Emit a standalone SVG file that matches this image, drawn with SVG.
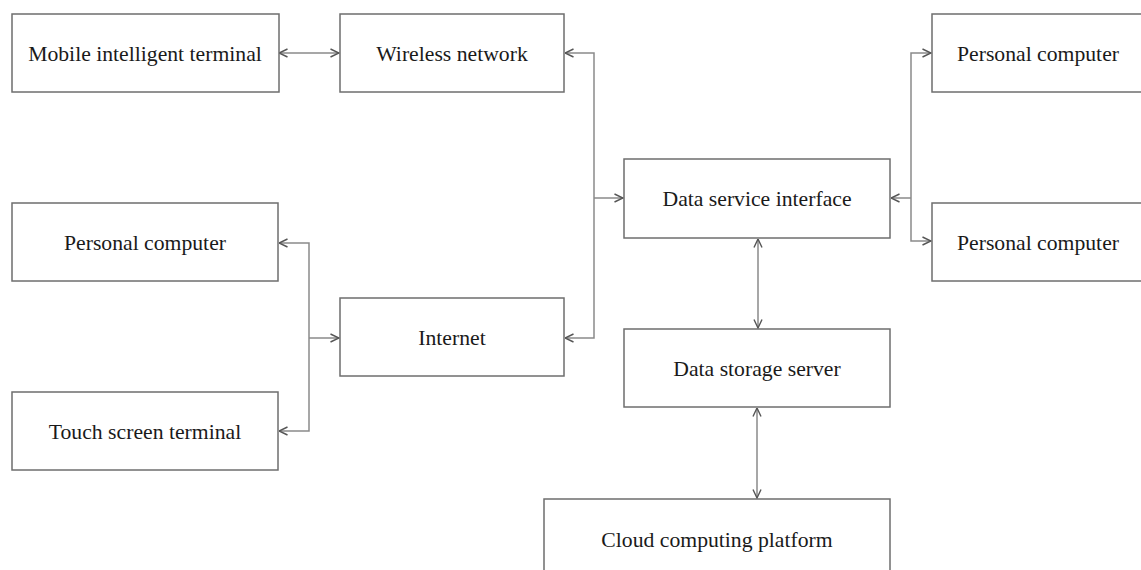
<svg xmlns="http://www.w3.org/2000/svg" width="1141" height="570" viewBox="0 0 1141 570">
<style>
.box{fill:#fff;stroke:#6e6e6e;stroke-width:1.5}
.t{font-family:"Liberation Serif","Times New Roman",serif;font-size:21.7px;fill:#1a1a1a;text-anchor:middle;dominant-baseline:central}
.c{fill:none;stroke:#8a8a8a;stroke-width:1.5}
</style>
<defs>
<marker id="a" viewBox="0 0 10 10" refX="9.5" refY="5" markerWidth="10" markerHeight="10" markerUnits="userSpaceOnUse" orient="auto-start-reverse">
<path d="M1,1 L9.5,5 L1,9" fill="none" stroke="#555" stroke-width="1.4"/>
</marker>
</defs>
<rect width="1141" height="570" fill="#fff"/>
<g id="connectors">
<line class="c" x1="279" y1="53" x2="339" y2="53" marker-start="url(#a)" marker-end="url(#a)"/>
<path class="c" d="M565,53 H594 V338 H565" marker-start="url(#a)" marker-end="url(#a)"/>
<line class="c" x1="594" y1="198" x2="623" y2="198" marker-end="url(#a)"/>
<path class="c" d="M279,243 H309 V431 H279" marker-start="url(#a)" marker-end="url(#a)"/>
<line class="c" x1="309" y1="338" x2="339" y2="338" marker-end="url(#a)"/>
<path class="c" d="M931,53 H911 V241 H931" marker-start="url(#a)" marker-end="url(#a)"/>
<line class="c" x1="911" y1="198" x2="891" y2="198" marker-end="url(#a)"/>
<line class="c" x1="758" y1="239" x2="758" y2="328" marker-start="url(#a)" marker-end="url(#a)"/>
<line class="c" x1="757" y1="408" x2="757" y2="498" marker-start="url(#a)" marker-end="url(#a)"/>
</g>
<g id="mobile"><rect class="box" x="12" y="14" width="267" height="78"/><text class="t" x="145" y="54">Mobile intelligent terminal</text></g>
<g id="wireless"><rect class="box" x="340" y="14" width="224" height="78"/><text class="t" x="452" y="54">Wireless network</text></g>
<g id="pc-left"><rect class="box" x="12" y="203" width="266" height="78"/><text class="t" x="145" y="243">Personal computer</text></g>
<g id="internet"><rect class="box" x="340" y="298" width="224" height="78"/><text class="t" x="452" y="338">Internet</text></g>
<g id="touch"><rect class="box" x="12" y="392" width="266" height="78"/><text class="t" x="145" y="432">Touch screen terminal</text></g>
<g id="dsi"><rect class="box" x="624" y="159" width="266" height="79"/><text class="t" x="757" y="199">Data service interface</text></g>
<g id="dss"><rect class="box" x="624" y="329" width="266" height="78"/><text class="t" x="757" y="369">Data storage server</text></g>
<g id="cloud"><rect class="box" x="544" y="499" width="346" height="80"/><text class="t" x="717" y="540">Cloud computing platform</text></g>
<g id="pc-right1"><rect class="box" x="932" y="14" width="220" height="78"/><text class="t" x="1038" y="54">Personal computer</text></g>
<g id="pc-right2"><rect class="box" x="932" y="203" width="220" height="78"/><text class="t" x="1038" y="243">Personal computer</text></g>
</svg>
